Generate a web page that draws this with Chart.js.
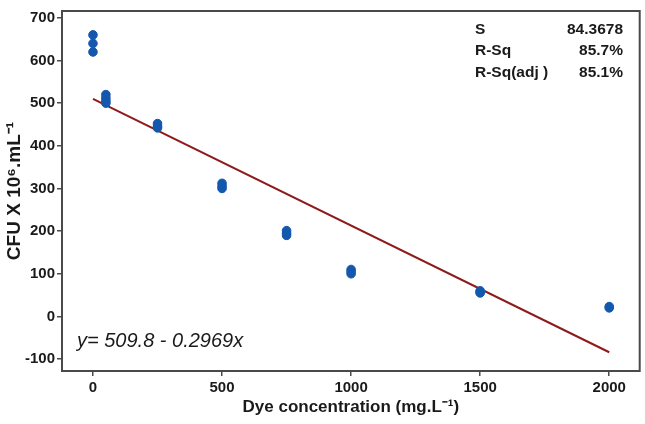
<!DOCTYPE html>
<html>
<head>
<meta charset="utf-8">
<script src="https://cdn.jsdelivr.net/npm/chart.js@4"></script>
<style>
  html, body { margin: 0; padding: 0; background: #fff; }
  #wrap { width: 645px; height: 424px; }
</style>
</head>
<body>
<div id="wrap"><canvas id="chart" width="645" height="424"></canvas></div>
<script>
// observed points (dye concentration vs CFU)
const dyeConc = [0, 0, 0, 50, 50, 50, 50, 250, 250, 250, 500, 500, 500,
  750, 750, 750, 1000, 1000, 1000, 1500, 1500, 1500, 2000, 2000];
const cfu = [660, 640, 620, 520, 512, 505, 500, 452, 446, 442, 312, 305, 300,
  201, 195, 190, 110, 105, 100, 60, 57, 55, 23, 20];

// fitted line y = 509.8 - 0.2969x, end points
const fitX = [0, 2000];
const fitY = [509.8, -84.0];

const xTicks = [0, 500, 1000, 1500, 2000];
const yTicks = [-100, 0, 100, 200, 300, 400, 500, 600, 700];

const statLabels = ["S", "R-Sq", "R-Sq(adj )"];
const statValues = ["84.3678", "85.7%", "85.1%"];
const equation = "y= 509.8 - 0.2969x";

const FONT = "'Liberation Sans', Arial, sans-serif";

// frame + stats + equation
const annot = {
  id: "annot",
  afterDraw(c) {
    const ctx = c.ctx;
    const a = c.chartArea;
    ctx.save();
    ctx.strokeStyle = "#4a4a4a";
    ctx.lineWidth = 2;
    ctx.strokeRect(a.left, a.top, a.right - a.left, a.bottom - a.top);

    ctx.fillStyle = "#1a1a1a";
    ctx.font = "bold 15.5px " + FONT;
    ctx.textBaseline = "middle";
    statLabels.forEach((s, i) => {
      const y = 29.5 + i * 21.5;
      ctx.textAlign = "left";
      ctx.fillText(s, 475, y);
      ctx.textAlign = "right";
      ctx.fillText(statValues[i], 623, y);
    });

    ctx.font = "italic 20px " + FONT;
    ctx.textAlign = "left";
    ctx.textBaseline = "alphabetic";
    ctx.fillText(equation, 77, 347);
    ctx.restore();
  }
};

new Chart(document.getElementById("chart"), {
  type: "scatter",
  data: {
    datasets: [
      {
        label: "fit",
        type: "line",
        data: fitX.map((x, i) => ({ x, y: fitY[i] })),
        borderColor: "#8e1b1b",
        borderWidth: 2,
        pointRadius: 0,
        fill: false,
        order: 2
      },
      {
        label: "CFU",
        data: dyeConc.map((x, i) => ({ x, y: cfu[i] })),
        backgroundColor: "#1458ad",
        borderColor: "#1458ad",
        pointRadius: 4.3,
        pointHoverRadius: 4.3,
        order: 1
      }
    ]
  },
  options: {
    responsive: false,
    animation: false,
    layout: { padding: { top: 6, right: 3, left: 0, bottom: 0 } },
    plugins: { legend: { display: false }, tooltip: { enabled: false } },
    scales: {
      x: {
        type: "linear",
        min: -120,
        max: 2118,
        afterBuildTicks: (s) => { s.ticks = xTicks.map(v => ({ value: v })); },
        afterFit: (s) => { s.height = 53; },
        grid: { display: true, drawOnChartArea: false, drawTicks: true, tickLength: 5, color: "#4a4a4a", lineWidth: 1.5 },
        border: { display: false },
        ticks: {
          color: "#1a1a1a", padding: 3, maxRotation: 0,
          font: { family: FONT, size: 15, weight: "bold" },
          callback: (v) => String(v)
        },
        title: {
          display: true,
          text: "Dye concentration (mg.L\u207B\u00B9)",
          color: "#1a1a1a",
          font: { family: FONT, size: 17, weight: "bold" },
          padding: { top: 0, bottom: 6 }
        }
      },
      y: {
        type: "linear",
        min: -128,
        max: 716,
        afterBuildTicks: (s) => { s.ticks = yTicks.map(v => ({ value: v })); },
        afterFit: (s) => { s.width = 62; },
        grid: { display: true, drawOnChartArea: false, drawTicks: true, tickLength: 5, color: "#4a4a4a", lineWidth: 1.5 },
        border: { display: false },
        ticks: {
          color: "#1a1a1a", padding: 2,
          font: { family: FONT, size: 15, weight: "bold" },
          callback: (v) => String(v)
        },
        title: {
          display: true,
          text: "CFU X 10\u2076.mL\u207B\u00B9",
          color: "#1a1a1a",
          font: { family: FONT, size: 19, weight: "bold" },
          padding: { top: 3, bottom: 0 }
        }
      }
    }
  },
  plugins: [annot]
});
</script>
</body>
</html>
